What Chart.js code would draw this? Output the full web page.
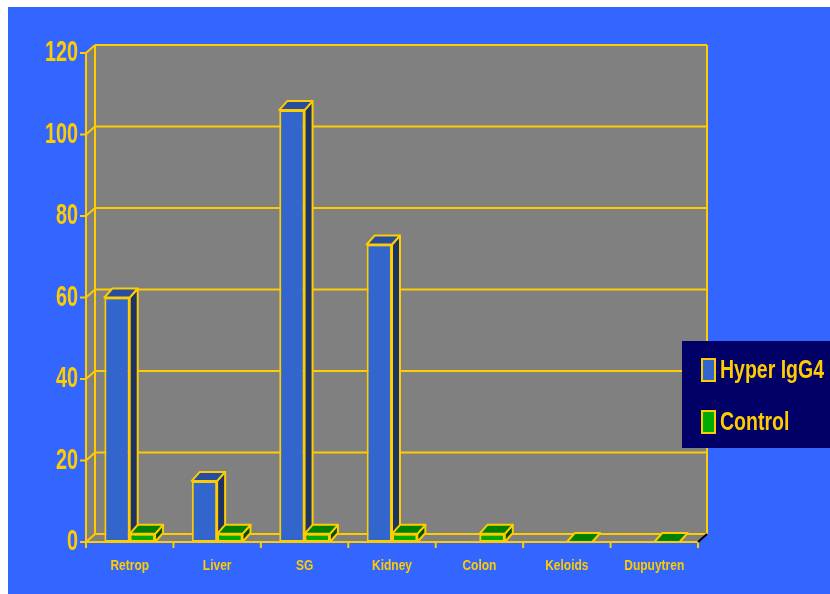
<!DOCTYPE html>
<html>
<head>
<meta charset="utf-8">
<script src="https://cdn.jsdelivr.net/npm/chart.js@4.4.1/dist/chart.umd.min.js"></script>
<style>
  html, body { margin: 0; padding: 0; background: #fff; }
  #wrap { width: 830px; height: 594px; }
</style>
</head>
<body>
<div id="wrap"><canvas id="chart" width="830" height="594"></canvas></div>
<script>
const categories  = ['Retrop', 'Liver', 'SG', 'Kidney', 'Colon', 'Keloids', 'Dupuytren'];
const hyperIgG4   = [60, 15, 106, 73, null, null, null];
const control     = [2, 2, 2, 2, 2, 0, 0];
const yTicks      = [0, 20, 40, 60, 80, 100, 120];
const seriesNames = ['Hyper IgG4', 'Control'];

const FONT   = "'Liberation Sans', Arial, sans-serif";
const YELLOW = '#FFCC00';
const BG     = '#3366FF';
const WALL   = '#808080';
const WALL_DX = 9, WALL_DY = 8;
const BAR_DX  = 8, BAR_DY  = 9;

function poly(ctx, pts, fill) {
    ctx.beginPath();
    ctx.moveTo(pts[0][0], pts[0][1]);
    for (let i = 1; i < pts.length; i++) ctx.lineTo(pts[i][0], pts[i][1]);
    ctx.closePath();
    ctx.fillStyle = fill;
    ctx.fill();
    ctx.stroke();
}

function line(ctx, x1, y1, x2, y2) {
    ctx.beginPath();
    ctx.moveTo(x1, y1);
    ctx.lineTo(x2, y2);
    ctx.stroke();
}

// texte étroit (pas d'Arial Narrow installé) : on comprime horizontalement
function narrowText(ctx, text, x, y, size, sx, align) {
    ctx.save();
    ctx.font = 'bold ' + size + 'px ' + FONT;
    ctx.fillStyle = YELLOW;
    ctx.textAlign = align;
    ctx.textBaseline = 'middle';
    ctx.translate(x, y);
    ctx.scale(sx, 1);
    ctx.fillText(text, 0, 0);
    ctx.restore();
}

function faces(ctx, bar, ds, v) {
    if (v === null || v === undefined) return;
    const p = bar.getProps(['x', 'y', 'base', 'width'], true);
    const l = p.x - p.width / 2, r = p.x + p.width / 2;
    const t = Math.min(p.y, p.base), b = Math.max(p.y, p.base);
    if (b - t > 0.5) {
        poly(ctx, [[r, t], [r + BAR_DX, t - BAR_DY], [r + BAR_DX, b - BAR_DY], [r, b]], ds.sideColor);
    }
    poly(ctx, [[l, t], [l + BAR_DX, t - BAR_DY], [r + BAR_DX, t - BAR_DY], [r, t]], ds.topColor);
}

const scene3d = {
    id: 'scene3d',
    beforeDraw(chart) {
        const { ctx, chartArea: a, scales: { x, y } } = chart;
        const L = a.left, R = a.right, T = a.top, B = a.bottom;

        ctx.save();
        ctx.fillStyle = '#fff';
        ctx.fillRect(0, 0, chart.width, chart.height);
        ctx.fillStyle = BG;
        ctx.fillRect(8, 7, chart.width - 8, chart.height - 7);

        // murs gris (fond, côté gauche, sol)
        ctx.beginPath();
        ctx.moveTo(L, B);
        ctx.lineTo(L, T);
        ctx.lineTo(L + WALL_DX, T - WALL_DY);
        ctx.lineTo(R + WALL_DX, T - WALL_DY);
        ctx.lineTo(R + WALL_DX, B - WALL_DY);
        ctx.lineTo(R, B);
        ctx.closePath();
        ctx.fillStyle = WALL;
        ctx.fill();

        ctx.strokeStyle = YELLOW;
        ctx.lineWidth = 2;

        y.ticks.forEach(t => {
            const py = y.getPixelForValue(t.value);
            line(ctx, L + WALL_DX, py - WALL_DY, R + WALL_DX, py - WALL_DY);
            line(ctx, L, py, L + WALL_DX, py - WALL_DY);
            line(ctx, L - 6, py, L, py);
            narrowText(ctx, String(t.value), L - 8, py, 30, 0.66, 'right');
        });
        line(ctx, L + WALL_DX, T - WALL_DY, L + WALL_DX, B - WALL_DY);
        line(ctx, R + WALL_DX, T - WALL_DY, R + WALL_DX, B - WALL_DY);
        line(ctx, L, T, L, B);
        line(ctx, L - 1, B, R, B);

        const w = x.getPixelForValue(1) - x.getPixelForValue(0);
        for (let i = 0; i <= categories.length; i++) {
            const px = x.getPixelForValue(0) - w / 2 + i * w;
            line(ctx, px, B, px, B + 6);
        }
        categories.forEach((c, i) => {
            narrowText(ctx, c, x.getPixelForValue(i), B + 24, 15, 0.8, 'center');
        });

        ctx.strokeStyle = '#000';
        line(ctx, R + WALL_DX, B - WALL_DY, R, B);
        ctx.restore();
    },

    // par catégorie : barre bleue en 3D, puis la verte par-dessus
    afterDatasetsDraw(chart) {
        const { ctx } = chart;
        const blue = chart.data.datasets[0], green = chart.data.datasets[1];
        const mBlue = chart.getDatasetMeta(0), mGreen = chart.getDatasetMeta(1);
        ctx.save();
        ctx.strokeStyle = YELLOW;
        ctx.lineWidth = 2;
        ctx.lineJoin = 'round';
        categories.forEach((c, i) => {
            faces(ctx, mBlue.data[i], blue, blue.data[i]);
            if (green.data[i]) mGreen.data[i].draw(ctx);
            ctx.strokeStyle = YELLOW;
            ctx.lineWidth = 2;
            faces(ctx, mGreen.data[i], green, green.data[i]);
        });
        ctx.restore();
    },

    afterDraw(chart) {
        const { ctx } = chart;
        ctx.save();
        ctx.fillStyle = '#000066';
        ctx.fillRect(682, 341, 148, 107);
        ctx.strokeStyle = YELLOW;
        ctx.lineWidth = 2;
        const rows = [370, 422];
        chart.data.datasets.forEach((ds, i) => {
            ctx.fillStyle = ds.backgroundColor;
            ctx.fillRect(702, rows[i] - 11, 13, 22);
            ctx.strokeRect(702, rows[i] - 11, 13, 22);
            narrowText(ctx, ds.label, 720, rows[i] + 1, 26, 0.75, 'left');
        });
        ctx.restore();
    }
};

new Chart(document.getElementById('chart'), {
    type: 'bar',
    data: {
        labels: categories,
        datasets: [
            {
                label: seriesNames[0],
                data: hyperIgG4,
                backgroundColor: '#3366CC',
                topColor: '#264D9F',
                sideColor: '#1C3366',
                borderColor: YELLOW,
                borderWidth: 2,
                borderSkipped: false
            },
            {
                label: seriesNames[1],
                data: control,
                backgroundColor: '#00AA00',
                topColor: '#008000',
                sideColor: '#005000',
                borderColor: YELLOW,
                borderWidth: 2,
                borderSkipped: false
            }
        ]
    },
    options: {
        responsive: false,
        animation: false,
        categoryPercentage: 0.58,
        barPercentage: 1.0,
        layout: { padding: { left: 8, right: 132, top: 53, bottom: 0 } },
        plugins: {
            legend: { display: false },
            tooltip: { enabled: false }
        },
        scales: {
            x: {
                grid: { display: false, drawTicks: false },
                border: { display: false },
                ticks: { display: false },
                afterFit(scale) { scale.height = 52; }
            },
            y: {
                min: 0,
                max: 120,
                grid: { display: false, drawTicks: false },
                border: { display: false },
                ticks: { display: false },
                afterBuildTicks(scale) { scale.ticks = yTicks.map(v => ({ value: v })); },
                afterFit(scale) { scale.width = 78; }
            }
        }
    },
    plugins: [scene3d]
});
</script>
</body>
</html>
